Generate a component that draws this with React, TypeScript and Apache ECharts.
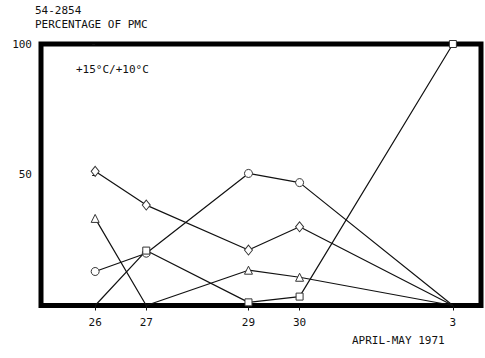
import React, { useEffect, useRef } from "react";
import * as echarts from "echarts";

// day index: 0 = Apr 26, 1 = Apr 27, 3 = Apr 29, 4 = Apr 30, 7 = May 3
const dayIndex = [0, 1, 3, 4, 7];
const dayLabels = ["26", "27", "29", "30", "3"];
const diamondValues = [51.3, 38.4, 21.2, 30.1, 0];
const circleValues = [13.0, 20.0, 50.5, 47.0, 0];
const triangleValues = [33.3, 0, 13.5, 10.8, 0];
const squareValues = [0, 21.0, 1.2, 3.4, 100];
const yTickValues = [50, 100];
const yTickLabels = ["50", "100"];

const FONT = "'DejaVu Sans Mono', 'Liberation Mono', monospace";
const INK = "#111";

function points(vals: number[]) {
  return dayIndex.map((d, i) =>
    vals[i] === 0 ? { value: [d, vals[i]], symbol: "none" } : { value: [d, vals[i]] }
  );
}

export default function App() {
  const ref = useRef<HTMLDivElement>(null);
  useEffect(() => {
    if (!ref.current) return;
    const chart = echarts.init(ref.current, undefined, { renderer: "svg" });
    const mk = (name: string, vals: number[], symbol: string, size: number | number[]) => ({
      name,
      type: "line",
      data: points(vals),
      symbol,
      symbolSize: size,
      showAllSymbol: true,
      clip: false,
      lineStyle: { color: INK, width: 1.2 },
      itemStyle: { color: "#fff", borderColor: "#333", borderWidth: 1 },
      z: 3,
    });
    chart.setOption({
      animation: false,
      backgroundColor: "#fff",
      grid: {
        left: 41,
        top: 44,
        right: 4,
        bottom: 52.5,
        show: true,
        borderColor: "#000",
        borderWidth: 5,
        backgroundColor: "transparent",
      },
      xAxis: {
        type: "value",
        min: -1.06,
        max: 7.55,
        splitLine: { show: false },
        axisLine: { show: false },
        axisTick: {
          show: true,
          customValues: dayIndex,
          length: 5,
          lineStyle: { color: INK, width: 1 },
        },
        axisLabel: {
          customValues: dayIndex,
          formatter: (v: number) => {
            const i = dayIndex.indexOf(Math.round(v));
            return i >= 0 ? dayLabels[i] : "";
          },
          fontFamily: FONT,
          fontSize: 11,
          color: INK,
          margin: 11,
        },
      },
      yAxis: {
        type: "value",
        min: 0,
        max: 100,
        splitLine: { show: false },
        axisLine: { show: false },
        axisTick: {
          show: true,
          customValues: yTickValues,
          length: 3,
          lineStyle: { color: INK, width: 1 },
        },
        axisLabel: {
          customValues: yTickValues,
          formatter: (v: number) => {
            const i = yTickValues.indexOf(Math.round(v));
            return i >= 0 ? yTickLabels[i] : "";
          },
          fontFamily: FONT,
          fontSize: 11,
          color: INK,
          margin: 9,
        },
      },
      graphic: [
        { type: "text", left: 35, top: 5, style: { text: "54-2854", font: `11px ${FONT}`, fill: INK } },
        { type: "text", left: 35, top: 19, style: { text: "PERCENTAGE OF PMC", font: `11px ${FONT}`, fill: INK } },
        { type: "text", left: 76, top: 64, style: { text: "+15°C/+10°C", font: `11px ${FONT}`, fill: INK } },
        { type: "text", left: 352, top: 335, style: { text: "APRIL-MAY 1971", font: `11px ${FONT}`, fill: INK } },
      ],
      series: [
        mk("diamond", diamondValues, "diamond", [8, 10]),
        mk("circle", circleValues, "circle", 8),
        mk("triangle", triangleValues, "triangle", 8),
        mk("square", squareValues, "rect", 7),
      ],
    });
    return () => chart.dispose();
  }, []);
  return <div ref={ref} style={{ width: 485, height: 358, position: "absolute", left: 0, top: 0 }} />;
}
